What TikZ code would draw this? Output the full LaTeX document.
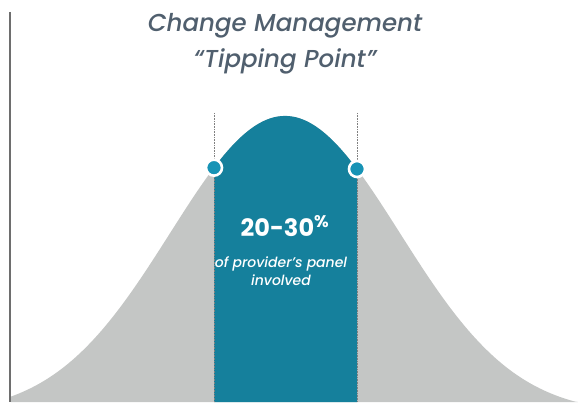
\documentclass[tikz,border=0pt]{standalone}
\usepackage{fontspec}
\setmainfont{Poppins}
\newfontfamily\headfont{Poppins Medium}[ItalicFont={Poppins Medium Italic}]
\definecolor{titlegray}{HTML}{505F6E}
\definecolor{curvegray}{HTML}{C4C6C5}
\definecolor{panelteal}{HTML}{15809C}
\definecolor{dotteal}{HTML}{1793B5}
\definecolor{axisgray}{HTML}{6E6E6E}
\newcommand{\bell}[1]{max(0,298*exp(-0.5*((#1-285)/115)*((#1-285)/115))-12)}
\tikzset{
  tipdot/.style={circle, fill=dotteal, draw=white, line width=2.6pt, minimum size=16pt, inner sep=0pt},
  guide/.style={gray, densely dotted, line width=0.6pt},
  headline/.style={anchor=base, titlegray, font=\headfont\itshape\fontsize{24.5}{30}\selectfont},
  paneltext/.style={anchor=base, white, font=\headfont\itshape\fontsize{14}{17}\selectfont}
}

\begin{document}
\begin{tikzpicture}[x=1pt,y=1pt]
\useasboundingbox (0,0) rectangle (578,402);
\fill[curvegray] plot[domain=11:578,samples=150] (\x,{\bell{\x}}) -- (578,0) -- (11,0) -- cycle;
\fill[panelteal] plot[domain=214:357,samples=60] (\x,{\bell{\x}}) -- (357,0) -- (214,0) -- cycle;

\coordinate (axisTop) at (10,390);
\coordinate (axisBot) at (10,0);
\coordinate (guideLtop) at (214,289);
\coordinate (guideLbot) at (214,0);
\coordinate (guideRtop) at (357,289);
\coordinate (guideRbot) at (357,0);

\draw[axisgray, line width=1.6pt] (axisTop) -- (axisBot);
\draw[guide] (guideLtop) -- (guideLbot);
\draw[guide] (guideRtop) -- (guideRbot);

\node[tipdot] (tipL) at (214,{\bell{214}}) {};
\node[tipdot] (tipR) at (357,{\bell{357}}) {};

\node[headline] (title1) at (285,370) {Change Management};
\node[headline] (title2) at (285,334) {“Tipping Point”};

\node[anchor=base, white, font=\bfseries\fontsize{24}{28}\selectfont] (share) at (285,165) {20-30\textsuperscript{\%}};
\node[paneltext] (panel) at (281,135) {of provider’s panel};
\node[paneltext] (involved) at (281,117) {involved};
\end{tikzpicture}
\end{document}
